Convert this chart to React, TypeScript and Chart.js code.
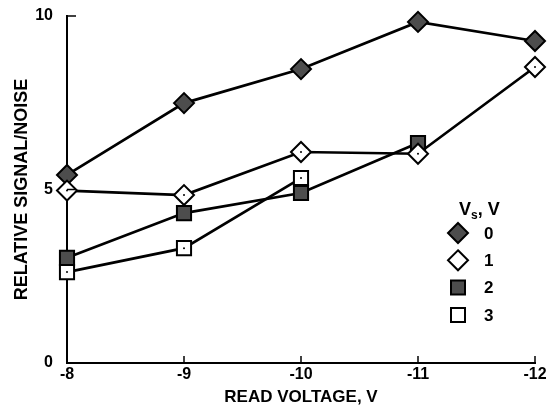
import React, { useEffect, useRef } from "react";
import { Chart, registerables } from "chart.js";

Chart.register(...registerables);

const xLabels = ["-8", "-9", "-10", "-11", "-12"];
const seriesNames = ["0", "1", "2", "3"];
const vs0 = [5.42, 7.49, 8.47, 9.83, 9.28];
const vs1 = [4.97, 4.84, 6.08, 6.03, 8.53];
const vs2 = [3.03, 4.32, 4.9, 6.34, null];
const vs3 = [2.62, 3.31, 5.33, null, null];
const yTickValues = [0, 5, 10];

const FONT = "'Liberation Sans', Arial, Helvetica, sans-serif";
const DARK = "#4d4d4d";

function drawMarker(ctx: CanvasRenderingContext2D, kind: number, x: number, y: number) {
  ctx.save();
  ctx.lineWidth = 2;
  ctx.strokeStyle = "#000";
  ctx.fillStyle = kind === 0 || kind === 2 ? DARK : "#fff";
  ctx.beginPath();
  if (kind === 0 || kind === 1) {
    const r = 10;
    ctx.moveTo(x, y - r);
    ctx.lineTo(x + r, y);
    ctx.lineTo(x, y + r);
    ctx.lineTo(x - r, y);
    ctx.closePath();
  } else {
    const h = 7;
    ctx.rect(x - h, y - h, 2 * h, 2 * h);
  }
  ctx.fill();
  ctx.stroke();
  ctx.restore();
}

const decor = {
  id: "decor",
  afterDatasetsDraw(chart: any) {
    const ctx = chart.ctx as CanvasRenderingContext2D;
    [1, 3].forEach((di) => {
      const meta = chart.getDatasetMeta(di);
      meta.data.forEach((pt: any, i: number) => {
        const v = chart.data.datasets[di].data[i];
        if (v === null || v === undefined) return;
        ctx.save();
        ctx.fillStyle = "#000";
        ctx.beginPath();
        ctx.arc(pt.x, pt.y, 1, 0, Math.PI * 2);
        ctx.fill();
        ctx.restore();
      });
    });
  },
  afterDraw(chart: any) {
    const ctx = chart.ctx as CanvasRenderingContext2D;
    const { left, right, bottom } = chart.chartArea;
    const xs = chart.scales.x;
    const ys = chart.scales.y;
    ctx.save();
    ctx.strokeStyle = "#000";
    ctx.lineWidth = 1.5;
    xLabels.forEach((_, i) => {
      if (i === 0) return;
      const px = xs.getPixelForValue(i);
      ctx.beginPath();
      ctx.moveTo(px, bottom);
      ctx.lineTo(px, bottom - 7);
      ctx.stroke();
    });
    yTickValues.forEach((v) => {
      if (v === 0) return;
      const py = ys.getPixelForValue(v);
      ctx.beginPath();
      ctx.moveTo(left, py);
      ctx.lineTo(left + 9, py);
      ctx.stroke();
    });

    // legend
    const mx = right - 77;
    const tx = right - 51;
    const top = ys.getPixelForValue(0) - 130;
    ctx.fillStyle = "#000";
    ctx.textBaseline = "middle";
    ctx.textAlign = "left";
    ctx.font = `bold 18px ${FONT}`;
    let cx = mx + 1;
    const ty = top - 23;
    ctx.fillText("V", cx, ty);
    cx += ctx.measureText("V").width;
    ctx.font = `bold 12px ${FONT}`;
    ctx.fillText("s", cx, ty + 6);
    cx += ctx.measureText("s").width;
    ctx.font = `bold 18px ${FONT}`;
    ctx.fillText(", V", cx, ty);
    seriesNames.forEach((name, i) => {
      const yy = top + i * 27.3;
      drawMarker(ctx, i, mx, yy);
      ctx.fillStyle = "#000";
      ctx.font = `bold 17px ${FONT}`;
      ctx.fillText(name, tx, yy + 1);
    });
    ctx.restore();
  },
};

export default function App() {
  const ref = useRef<HTMLCanvasElement | null>(null);
  useEffect(() => {
    document.body.style.margin = "0";
    const canvas = ref.current!;
    const common = {
      borderColor: "#000",
      borderWidth: 2.7,
      pointBorderColor: "#000",
      pointBorderWidth: 2,
      clip: false as any,
      tension: 0,
    };
    const chart = new Chart(canvas, {
      type: "line",
      data: {
        labels: xLabels,
        datasets: [
          { ...common, label: seriesNames[0], data: vs0, pointStyle: "rectRot", pointRadius: 10, pointBackgroundColor: DARK, order: 2 },
          { ...common, label: seriesNames[1], data: vs1, pointStyle: "rectRot", pointRadius: 10, pointBackgroundColor: "#fff", order: 0 },
          { ...common, label: seriesNames[2], data: vs2, pointStyle: "rect", pointRadius: 10, pointBackgroundColor: DARK, order: 3 },
          { ...common, label: seriesNames[3], data: vs3, pointStyle: "rect", pointRadius: 10, pointBackgroundColor: "#fff", order: 1 },
        ] as any,
      },
      options: {
        animation: false,
        responsive: false,
        layout: { padding: { top: 16, right: 11, left: 0, bottom: 0 } },
        plugins: { legend: { display: false }, tooltip: { enabled: false } },
        scales: {
          x: {
            type: "category",
            offset: false,
            grid: { display: false, drawTicks: false },
            border: { display: true, color: "#000", width: 2 },
            ticks: { color: "#000", font: { family: FONT, size: 16, weight: "bold" }, padding: 2, maxRotation: 0 },
            title: { display: true, text: "READ VOLTAGE, V", color: "#000", font: { family: FONT, size: 17, weight: "bold" }, padding: { top: 0, bottom: 2 } },
            afterFit: (s: any) => { s.height = 47; s.paddingLeft = 0; s.paddingRight = 0; },
          },
          y: {
            type: "linear",
            min: 0,
            max: 10,
            grid: { display: false, drawTicks: false },
            border: { display: true, color: "#000", width: 2 },
            ticks: { stepSize: 5, color: "#000", font: { family: FONT, size: 16, weight: "bold" }, padding: 14 },
            title: { display: true, text: "RELATIVE SIGNAL/NOISE", color: "#000", font: { family: FONT, size: 18, weight: "bold" }, padding: { top: 11, bottom: 0 } },
            afterFit: (s: any) => { s.width = 67; s.paddingTop = 0; s.paddingBottom = 0; },
          },
        },
      } as any,
      plugins: [decor],
    });
    return () => chart.destroy();
  }, []);
  return (
    <div style={{ width: 547, height: 410 }}>
      <canvas ref={ref} width={547} height={410} style={{ display: "block" }} />
    </div>
  );
}
